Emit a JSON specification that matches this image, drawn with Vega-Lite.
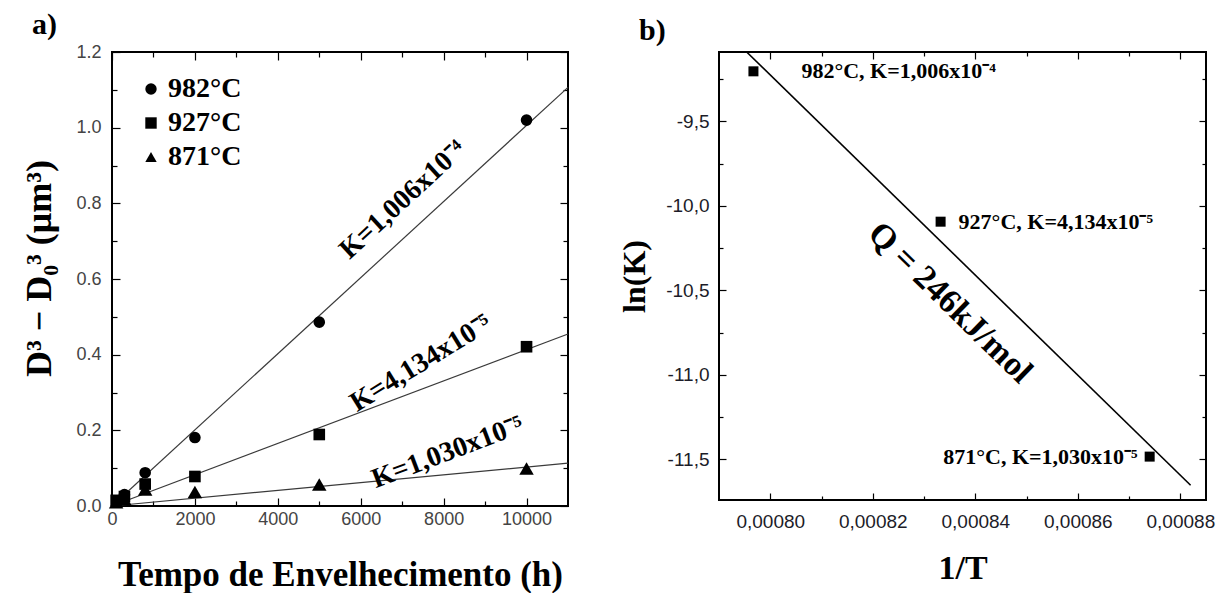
{
  "$schema": "https://vega.github.io/schema/vega-lite/v6.json",
  "background": "white",
  "padding": {"left": 20, "top": 9, "right": 5, "bottom": 0},
  "spacing": 45,
  "config": {
    "view": {"stroke": "black", "strokeWidth": 2},
    "axis": {"domain": false, "grid": false, "ticks": true, "tickColor": "black", "tickWidth": 1.2, "labelFont": "Liberation Sans", "labelFontSize": 18, "labelFlush": false, "titleFont": "Liberation Serif", "titleFontWeight": "bold", "titleColor": "black", "minExtent": 0},
    "title": {"font": "Liberation Serif", "fontWeight": "bold", "fontSize": 30, "color": "black"}
  },
  "datasets": {
    "pointsA": [
      {"t": 300, "d3": 0.030, "temp": "982°C"},
      {"t": 800, "d3": 0.088, "temp": "982°C"},
      {"t": 2000, "d3": 0.181, "temp": "982°C"},
      {"t": 5000, "d3": 0.486, "temp": "982°C"},
      {"t": 10000, "d3": 1.020, "temp": "982°C"},
      {"t": 100, "d3": 0.015, "temp": "927°C"},
      {"t": 300, "d3": 0.025, "temp": "927°C"},
      {"t": 800, "d3": 0.058, "temp": "927°C"},
      {"t": 2000, "d3": 0.078, "temp": "927°C"},
      {"t": 5000, "d3": 0.189, "temp": "927°C"},
      {"t": 10000, "d3": 0.421, "temp": "927°C"},
      {"t": 100, "d3": 0.010, "temp": "871°C"},
      {"t": 300, "d3": 0.018, "temp": "871°C"},
      {"t": 800, "d3": 0.044, "temp": "871°C"},
      {"t": 2000, "d3": 0.037, "temp": "871°C"},
      {"t": 5000, "d3": 0.057, "temp": "871°C"},
      {"t": 10000, "d3": 0.099, "temp": "871°C"}
    ],
    "fitsA": [
      {"t": 0, "d3": 0, "temp": "982°C"},
      {"t": 11000, "d3": 1.1066, "temp": "982°C"},
      {"t": 0, "d3": 0, "temp": "927°C"},
      {"t": 11000, "d3": 0.4547, "temp": "927°C"},
      {"t": 0, "d3": 0, "temp": "871°C"},
      {"t": 11000, "d3": 0.1133, "temp": "871°C"}
    ],
    "labelsA": [
      {"t": 7020, "d3": 0.809, "temp": "982°C", "label": "K=1,006x10⁻⁴"},
      {"t": 7454, "d3": 0.377, "temp": "927°C", "label": "K=4,134x10⁻⁵"},
      {"t": 8098, "d3": 0.1414, "temp": "871°C", "label": "K=1,030x10⁻⁵"}
    ],
    "pointsB": [
      {"invT": 0.000796717, "lnK": -9.20436, "temp": "982°C", "label": "982°C, K=1,006x10⁻⁴"},
      {"invT": 0.000833229, "lnK": -10.09369, "temp": "927°C", "label": "927°C, K=4,134x10⁻⁵"},
      {"invT": 0.000874012, "lnK": -11.48337, "temp": "871°C", "label": "871°C, K=1,030x10⁻⁵"}
    ],
    "fitB": [
      {"invT": 0.0007955, "lnK": -9.093},
      {"invT": 0.000882, "lnK": -11.6525}
    ],
    "qB": [
      {"invT": 0.00083506, "lnK": -10.575, "label": "Q = 246kJ/mol"}
    ]
  },
  "hconcat": [
    {
      "width": 456,
      "height": 454,
      "title": {"text": "a)", "anchor": "start", "frame": "group", "dx": -80, "offset": 3},
      "resolve": {"axis": {"x": "independent", "y": "independent"}},
      "layer": [
        {
          "data": {"name": "fitsA"},
          "mark": {"type": "line", "color": "#3a3a3a", "strokeWidth": 1.2},
          "encoding": {
            "x": {"field": "t", "type": "quantitative", "scale": {"domain": [0, 11000], "nice": false},
              "axis": {"orient": "bottom", "values": [0, 2000, 4000, 6000, 8000, 10000], "format": "d", "tickSize": -8, "labelPadding": 12, "labelColor": "#444444", "title": "Tempo de Envelhecimento (h)", "titleFontSize": 35, "titlePadding": 29}},
            "y": {"field": "d3", "type": "quantitative", "scale": {"domain": [0, 1.2], "nice": false},
              "axis": {"orient": "left", "values": [0, 0.2, 0.4, 0.6, 0.8, 1.0, 1.2], "format": ".1f", "tickSize": -8, "labelPadding": 19, "labelColor": "#444444", "title": "D³ − D₀³ (μm³)", "titleFontSize": 36, "titlePadding": 17, "titleY": 216}},
            "detail": {"field": "temp", "type": "nominal"}
          }
        },
        {
          "data": {"name": "pointsA"},
          "transform": [{"filter": {"field": "temp", "oneOf": ["982°C", "927°C"]}}],
          "mark": {"type": "point", "filled": true, "color": "black", "opacity": 1, "size": 135},
          "encoding": {
            "x": {"field": "t", "type": "quantitative",
              "axis": {"orient": "top", "values": [0, 2000, 4000, 6000, 8000, 10000], "labels": false, "tickSize": -8, "title": null}},
            "y": {"field": "d3", "type": "quantitative",
              "axis": {"orient": "right", "values": [0, 0.2, 0.4, 0.6, 0.8, 1.0, 1.2], "labels": false, "tickSize": -8, "title": null}},
            "shape": {"field": "temp", "type": "nominal",
              "scale": {"domain": ["982°C", "927°C", "871°C"], "range": ["circle", "square", "triangle-up"]},
              "legend": {"orient": "none", "legendX": 25, "legendY": 23, "title": null, "padding": 0, "labelFont": "Liberation Serif", "labelFontSize": 28, "labelFontWeight": "bold", "labelColor": "black", "symbolSize": 130, "symbolFillColor": "black", "symbolStrokeColor": "black", "rowPadding": 6, "labelOffset": 3}}
          }
        },
        {
          "data": {"name": "pointsA"},
          "transform": [{"filter": {"field": "temp", "equal": "871°C"}}],
          "mark": {"type": "point", "filled": true, "color": "black", "opacity": 1, "size": 210},
          "encoding": {
            "x": {"field": "t", "type": "quantitative", "axis": null},
            "y": {"field": "d3", "type": "quantitative", "axis": null},
            "shape": {"field": "temp", "type": "nominal",
              "scale": {"domain": ["982°C", "927°C", "871°C"], "range": ["circle", "square", "triangle-up"]},
              "legend": {"orient": "none", "legendX": 25, "legendY": 23, "title": null, "padding": 0, "labelFont": "Liberation Serif", "labelFontSize": 28, "labelFontWeight": "bold", "labelColor": "black", "symbolSize": 130, "symbolFillColor": "black", "symbolStrokeColor": "black", "rowPadding": 6, "labelOffset": 3}}
          }
        },
        {
          "data": {"name": "labelsA"},
          "mark": {"type": "text", "font": "Liberation Serif", "fontWeight": "bold", "fontSize": 28, "color": "black", "align": "center", "baseline": "middle"},
          "encoding": {
            "x": {"field": "t", "type": "quantitative",
              "axis": {"orient": "bottom", "values": [1000, 3000, 5000, 7000, 9000], "labels": false, "tickSize": -5, "title": null}},
            "y": {"field": "d3", "type": "quantitative",
              "axis": {"orient": "left", "values": [0.1, 0.3, 0.5, 0.7, 0.9, 1.1], "labels": false, "tickSize": -5, "title": null}},
            "text": {"field": "label", "type": "nominal"},
            "angle": {"field": "temp", "type": "nominal",
              "scale": {"domain": ["982°C", "927°C", "871°C"], "range": [-42.6, -20.7, -5.4]}, "legend": null}
          }
        },
        {
          "data": {"name": "pointsA"},
          "mark": {"type": "point", "opacity": 0},
          "encoding": {
            "x": {"field": "t", "type": "quantitative",
              "axis": {"orient": "top", "values": [1000, 3000, 5000, 7000, 9000], "labels": false, "tickSize": -5, "title": null}},
            "y": {"field": "d3", "type": "quantitative",
              "axis": {"orient": "right", "values": [0.1, 0.3, 0.5, 0.7, 0.9, 1.1], "labels": false, "tickSize": -5, "title": null}}
          }
        }
      ]
    },
    {
      "width": 487,
      "height": 448,
      "title": {"text": "b)", "anchor": "start", "frame": "group", "dx": -80, "offset": 3},
      "resolve": {"axis": {"x": "independent", "y": "independent"}},
      "layer": [
        {
          "data": {"name": "fitB"},
          "mark": {"type": "line", "color": "black", "strokeWidth": 1.6},
          "encoding": {
            "x": {"field": "invT", "type": "quantitative", "scale": {"domain": [0.00079, 0.000885], "nice": false, "zero": false},
              "axis": {"orient": "bottom", "values": [0.0008, 0.00082, 0.00084, 0.00086, 0.00088], "labelExpr": "replace(format(datum.value, '.5f'), '.', ',')", "tickSize": -7, "labelPadding": 19, "labelFontSize": 19, "labelColor": "#1c1c28", "title": "1/T", "titleFontSize": 34, "titlePadding": 20}},
            "y": {"field": "lnK", "type": "quantitative", "scale": {"domain": [-11.74, -9.09], "nice": false, "zero": false},
              "axis": {"orient": "left", "values": [-11.5, -11, -10.5, -10, -9.5], "labelExpr": "replace(replace(format(datum.value, '.1f'), '.', ','), '−', '-')", "tickSize": -7, "labelPadding": 17, "labelFontSize": 19, "labelColor": "#1c1c28", "title": "ln(K)", "titleFontSize": 32, "titlePadding": 14}}
          }
        },
        {
          "data": {"name": "pointsB"},
          "mark": {"type": "point", "shape": "square", "filled": true, "color": "black", "opacity": 1, "size": 100},
          "encoding": {
            "x": {"field": "invT", "type": "quantitative",
              "axis": {"orient": "top", "values": [0.0008, 0.00082, 0.00084, 0.00086, 0.00088], "labels": false, "tickSize": -7, "title": null}},
            "y": {"field": "lnK", "type": "quantitative",
              "axis": {"orient": "right", "values": [-11.5, -11, -10.5, -10, -9.5], "labels": false, "tickSize": -7, "title": null}}
          }
        },
        {
          "data": {"name": "pointsB"},
          "transform": [{"filter": {"field": "temp", "equal": "982°C"}}],
          "mark": {"type": "text", "font": "Liberation Serif", "fontWeight": "bold", "fontSize": 22, "color": "black", "align": "left", "baseline": "middle", "dx": 48},
          "encoding": {
            "x": {"field": "invT", "type": "quantitative",
              "axis": {"orient": "bottom", "values": [0.00081, 0.00083, 0.00085, 0.00087], "labels": false, "tickSize": -4, "title": null}},
            "y": {"field": "lnK", "type": "quantitative",
              "axis": {"orient": "left", "values": [-11.75, -11.25, -10.75, -10.25, -9.75, -9.25], "labels": false, "tickSize": -4, "title": null}},
            "text": {"field": "label", "type": "nominal"}
          }
        },
        {
          "data": {"name": "pointsB"},
          "transform": [{"filter": {"field": "temp", "equal": "927°C"}}],
          "mark": {"type": "text", "font": "Liberation Serif", "fontWeight": "bold", "fontSize": 22, "color": "black", "align": "left", "baseline": "middle", "dx": 18},
          "encoding": {
            "x": {"field": "invT", "type": "quantitative",
              "axis": {"orient": "top", "values": [0.00081, 0.00083, 0.00085, 0.00087], "labels": false, "tickSize": -4, "title": null}},
            "y": {"field": "lnK", "type": "quantitative",
              "axis": {"orient": "right", "values": [-11.75, -11.25, -10.75, -10.25, -9.75, -9.25], "labels": false, "tickSize": -4, "title": null}},
            "text": {"field": "label", "type": "nominal"}
          }
        },
        {
          "data": {"name": "pointsB"},
          "transform": [{"filter": {"field": "temp", "equal": "871°C"}}],
          "mark": {"type": "text", "font": "Liberation Serif", "fontWeight": "bold", "fontSize": 22, "color": "black", "align": "right", "baseline": "middle", "dx": -12},
          "encoding": {
            "x": {"field": "invT", "type": "quantitative", "axis": null},
            "y": {"field": "lnK", "type": "quantitative", "axis": null},
            "text": {"field": "label", "type": "nominal"}
          }
        },
        {
          "data": {"name": "qB"},
          "mark": {"type": "text", "font": "Liberation Serif", "fontWeight": "bold", "fontSize": 34, "color": "black", "align": "center", "baseline": "middle", "angle": 44.3},
          "encoding": {
            "x": {"field": "invT", "type": "quantitative", "axis": null},
            "y": {"field": "lnK", "type": "quantitative", "axis": null},
            "text": {"field": "label", "type": "nominal"}
          }
        }
      ]
    }
  ]
}
